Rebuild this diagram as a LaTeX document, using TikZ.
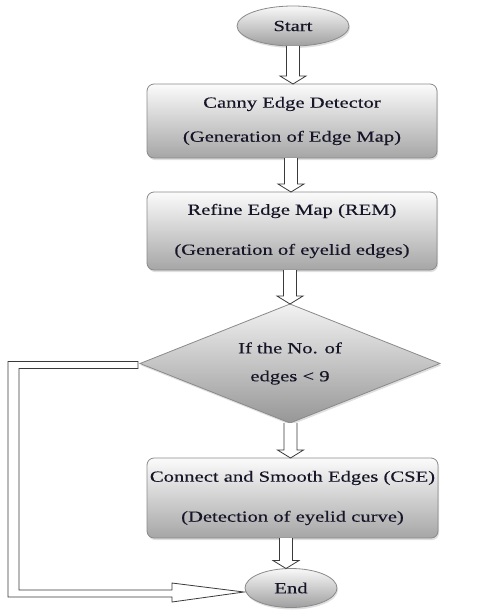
\documentclass[tikz,border=0pt]{standalone}
\usepackage{fontspec}
\newfontfamily\rf[FakeStretch=1.33,FakeBold=0.3]{Liberation Serif}
\usetikzlibrary{calc,shapes.geometric,shadows}
\definecolor{txt}{HTML}{161628}
\definecolor{brd}{HTML}{8A8A8A}
\definecolor{arr}{HTML}{3A3A3A}
\tikzset{
  base/.style={draw=brd, line width=0.8pt, text=txt, inner sep=0pt, outer sep=0pt, align=center,
    drop shadow={opacity=0.25, shadow xshift=1pt, shadow yshift=-2pt}},
  oval/.style={base, ellipse, minimum width=112pt, minimum height=40pt, top color=white!95!gray, bottom color=gray!75,
    font=\rf\fontsize{15.5}{18}\selectfont},
  procbox/.style={base, rectangle, rounded corners=7pt, minimum width=290pt, minimum height=76pt,
    top color=white!97!gray, bottom color=gray!70},
  decision/.style={base, diamond, aspect=2.5, minimum width=300pt, minimum height=119pt, top color=white!90!gray, bottom color=gray!82,
    font=\rf\fontsize{15.5}{28}\selectfont},
  hollow/.style={draw=arr, line width=0.8pt, fill=white, line join=miter},
}
% hollow block arrow from #1 down to #2, shaft shifted by #3 from the x of #2
\newcommand\harrow[3]{\draw[hollow] let \p1=(#1), \p2=(#2) in
  (\x2+#3-6.5pt,\y1) -- (\x2+#3-6.5pt,\y2+8pt) -- (\x2+#3-13pt,\y2+8pt) -- (\x2+#3,\y2)
  -- (\x2+#3+13pt,\y2+8pt) -- (\x2+#3+6.5pt,\y2+8pt) -- (\x2+#3+6.5pt,\y1);}
\begin{document}
\begin{tikzpicture}[x=1pt,y=-1pt]
\useasboundingbox (0,0) rectangle (497,614);
\node[oval] (start) at (293,26) {Start};
\node[procbox, minimum height=74pt, font=\rf\fontsize{15.5}{34}\selectfont] (b1) at (292,121) {Canny Edge Detector\\(Generation of Edge Map)};
\node[procbox, minimum height=78pt, font=\rf\fontsize{15.5}{40}\selectfont] (b2) at (292,231) {Refine Edge Map (REM)\\(Generation of eyelid edges)};
\node[decision] (d) at (290,363.5) {If the No. of\\edges < 9};
\node[procbox, minimum width=291pt, minimum height=80pt, font=\rf\fontsize{15.5}{40}\selectfont] (b4) at (292.5,498) {Connect and Smooth Edges (CSE)\\(Detection of eyelid curve)};
\node[oval, minimum width=92pt, minimum height=39pt] (end) at (291,588) {End};
\harrow{start.south}{b1.north}{1pt}
\harrow{b1.south}{b2.north}{-1pt}
\harrow{b2.south}{d.north}{0pt}
\harrow{d.south}{b4.north}{-2pt}
\harrow{b4.south}{end.north}{-5pt}
% feedback pipe from the diamond to End
\draw[hollow] ($(d.west)+(-2,-2)$) -- ++(-130,0) |- ($(end.west)+(-73,9)$) -- ++(0,5)
  -- ($(end.west)+(-1,4)$) -- ($(end.west)+(-73,-5)$) -- ++(0,7) -| ($(d.west)+(-121,5)$) -- ($(d.west)+(-2,5)$) -- cycle;
\end{tikzpicture}
\end{document}
